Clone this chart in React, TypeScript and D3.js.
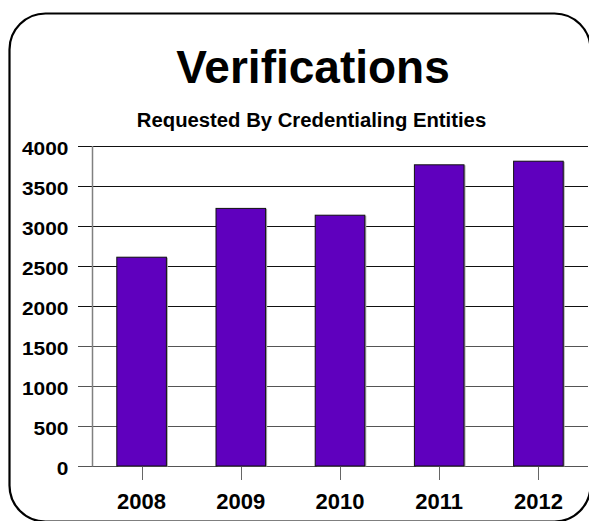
import React from "react";
import * as d3 from "d3";

const years = ["2008", "2009", "2010", "2011", "2012"];
const verifications = [2610, 3220, 3135, 3765, 3810];
const yTicks = [0, 500, 1000, 1500, 2000, 2500, 3000, 3500, 4000];
const title = "Verifications";
const subtitle = "Requested By Credentialing Entities";

const W = 589;
const H = 521;
const FONT = "'Liberation Sans', Arial, Helvetica, sans-serif";

export default function App() {
  const x = d3.scaleBand<string>().domain(years).range([92, 588]).paddingInner(0.5).paddingOuter(0.25);
  const y = d3.scaleLinear().domain([0, 4000]).range([466, 146]);
  const [x0, x1] = x.range();
  const data = years.map((yr, i) => ({ yr, v: verifications[i] }));

  return (
    <svg width={W} height={H} style={{ position: "absolute", left: 0, top: 0, background: "#fff" }} fontFamily={FONT}>
      <rect x={0} y={0} width={W} height={H} fill="#fff" />
      {/* gridlines incl. left tick marks */}
      {yTicks.map((t) => (
        <line key={"g" + t} x1={78} x2={x1} y1={Math.round(y(t)) + 0.5} y2={Math.round(y(t)) + 0.5} stroke={t <= 1500 ? "#555" : "#111"} strokeWidth={1} />
      ))}
      {/* y axis */}
      <line x1={x0 + 0.5} x2={x0 + 0.5} y1={y(4000)} y2={y(0) + 0.5} stroke="#808080" strokeWidth={1.5} />
      {/* bottom ticks */}
      {years.map((yr) => (
        <line key={"t" + yr} x1={Math.round(x(yr)! + x.bandwidth() / 2) + 0.5} x2={Math.round(x(yr)! + x.bandwidth() / 2) + 0.5} y1={y(0)} y2={y(0) + 14} stroke="#666" strokeWidth={1} />
      ))}
      {/* bars */}
      {data.map((d) => (
        <g key={d.yr}>
          <rect x={x(d.yr)! + 1.5} y={y(d.v) + 0.5} width={x.bandwidth()} height={y(0) - y(d.v)} fill="#aaa" />
          <rect x={x(d.yr)!} y={y(d.v)} width={x.bandwidth()} height={y(0) - y(d.v)} fill="#5F00BE" stroke="#111" strokeWidth={1} />
        </g>
      ))}
      {/* y labels */}
      {yTicks.map((t) => (
        <text key={"l" + t} transform={`translate(68.5, ${y(t) + 9}) scale(1.1,1)`} textAnchor="end" fontSize={19} fontWeight="bold" fill="#000">
          {t}
        </text>
      ))}
      {/* x labels */}
      {years.map((yr) => (
        <text key={"x" + yr} x={x(yr)! + x.bandwidth() / 2} y={509} textAnchor="middle" fontSize={22} fontWeight="bold" fill="#000">
          {yr}
        </text>
      ))}
      {/* titles */}
      <text x={313} y={82.5} textAnchor="middle" fontSize={46} fontWeight="bold" fill="#000">
        {title}
      </text>
      <text x={311.5} y={127} textAnchor="middle" fontSize={20.3} fontWeight="bold" fill="#000">
        {subtitle}
      </text>
      {/* rounded border */}
      <rect x={9.5} y={13.5} width={581} height={508} rx={36} ry={36} fill="none" stroke="#000" strokeWidth={2.2} />
    </svg>
  );
}
